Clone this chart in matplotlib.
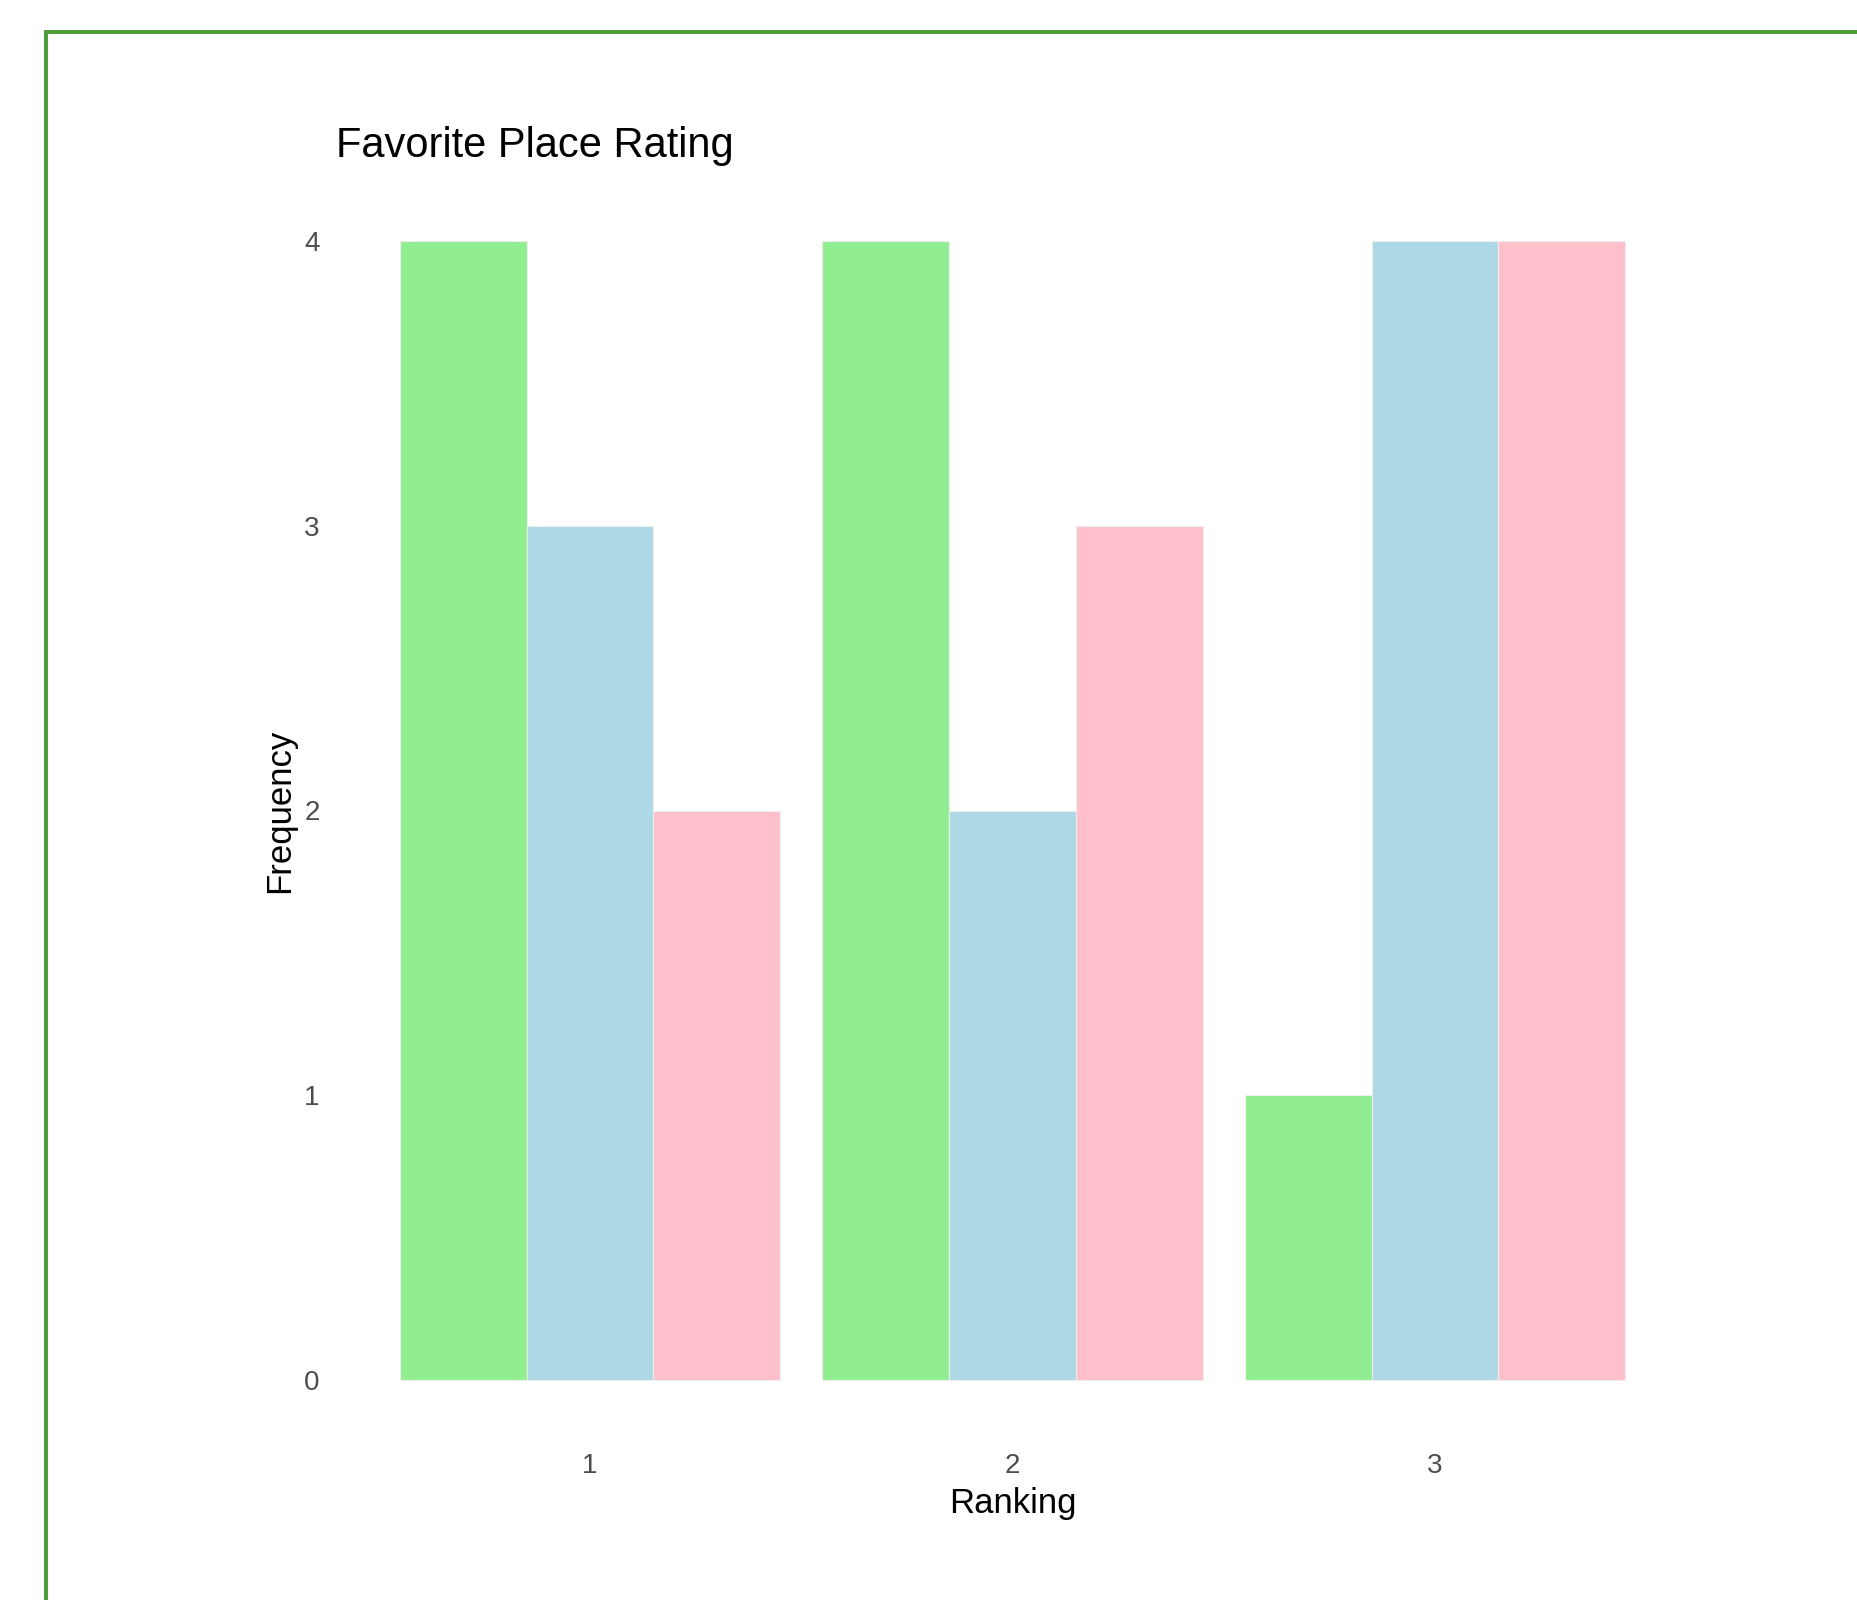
import numpy as np
import matplotlib
matplotlib.use("Agg")
import matplotlib.pyplot as plt
from matplotlib.lines import Line2D

# ---------- Data ----------
rankings = ["1", "2", "3"]
series_a = [4, 4, 1]   # green
series_b = [3, 2, 4]   # blue
series_c = [2, 3, 4]   # pink
colors = ["#90EE90", "#ADD8E6", "#FFC0CB"]
y_ticks = [0, 1, 2, 3, 4]
# --------------------------

plt.rcParams["font.family"] = ["Liberation Sans", "DejaVu Sans"]

W, H = 1857, 1600
fig = plt.figure(figsize=(W / 100, H / 100), dpi=100)
fig.patch.set_facecolor("white")

# panel placement (pixel based)
px_l, px_r, px_t, px_b = 336.5, 1688.5, 184, 1437
ax = fig.add_axes([px_l / W, 1 - px_b / H, (px_r - px_l) / W, (px_b - px_t) / H])

x = np.arange(1, len(rankings) + 1)
width = 0.3
for i, vals in enumerate([series_a, series_b, series_c]):
    ax.bar(x + (i - 1) * width, vals, width=width, color=colors[i],
           edgecolor="#eeeeee", linewidth=0.8)

ax.set_xlim(0.4, 3.6)
ax.set_ylim(-0.2, 4.2)
ax.set_xticks(x)
ax.set_xticklabels(rankings)
ax.set_yticks(y_ticks)
ax.tick_params(axis="both", length=0, labelsize=20, colors="#4d4d4d")
ax.tick_params(axis="x", pad=11.5)
ax.tick_params(axis="y", pad=12)
for s in ax.spines.values():
    s.set_visible(False)
ax.set_facecolor("white")

ax.set_xlabel("Ranking", fontsize=25, color="black", va="baseline")
ax.xaxis.set_label_coords(0.5, (px_b - 1513) / (px_b - px_t))
ax.set_ylabel("Frequency", fontsize=25, color="black", va="center")
ax.yaxis.set_label_coords((280 - px_l) / (px_r - px_l), 0.5)

ax.text(0, (px_b - 157) / (px_b - px_t), "Favorite Place Rating", transform=ax.transAxes,
        fontsize=30, color="black", ha="left", va="baseline")

# green frame around the plot (runs off right and bottom edges)
border = "#4f9d3a"
fig.add_artist(Line2D([46 / W, 46 / W], [1 - 30 / H, 0], transform=fig.transFigure,
                      color=border, linewidth=2.9, solid_capstyle="butt"))
fig.add_artist(Line2D([44 / W, 1], [1 - 32 / H, 1 - 32 / H], transform=fig.transFigure,
                      color=border, linewidth=2.9, solid_capstyle="butt"))

fig.savefig("out.png", dpi=100, facecolor="white")
